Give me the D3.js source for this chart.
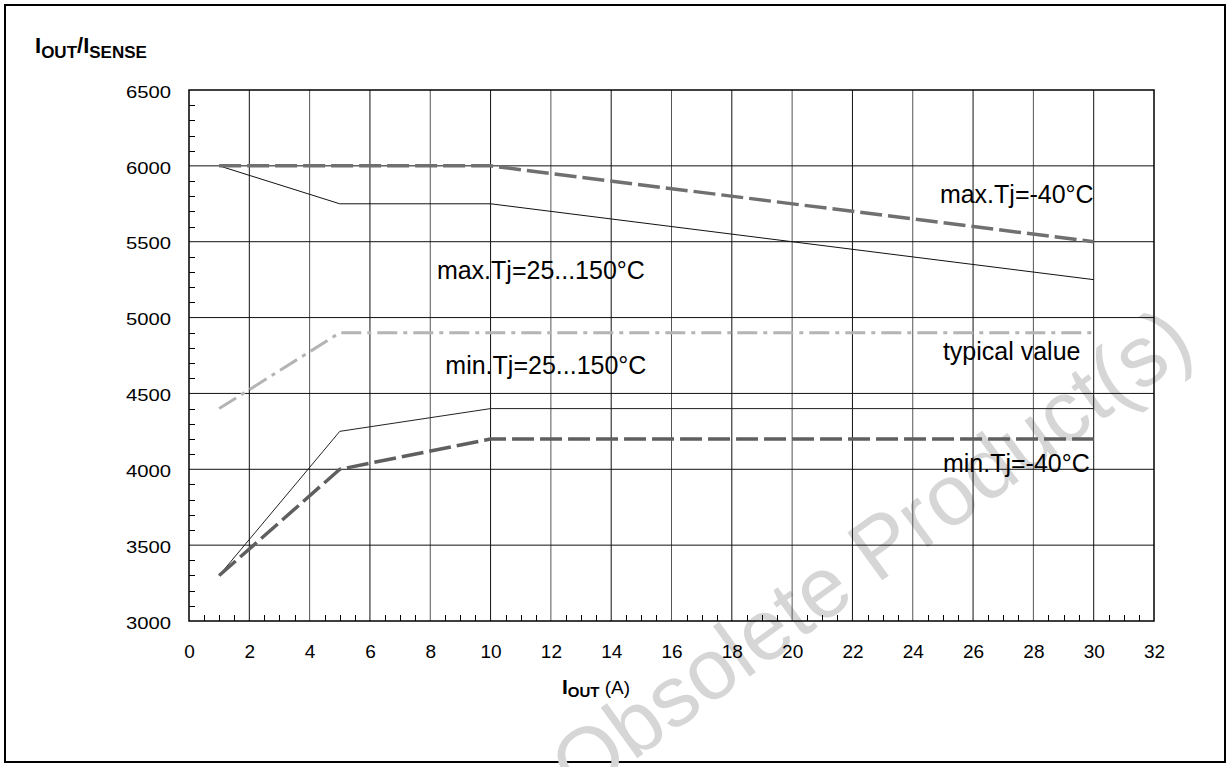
<!DOCTYPE html>
<html>
<head>
<meta charset="utf-8">
<script src="https://cdn.jsdelivr.net/npm/d3@7"></script>
<style>
  body { margin: 0; background: #fff; }
  svg { display: block; font-family: "Liberation Sans", Arial, sans-serif; }
</style>
</head>
<body>
<script>
// Data
var xTicks = [0, 2, 4, 6, 8, 10, 12, 14, 16, 18, 20, 22, 24, 26, 28, 30, 32]
var yTicks = [3000, 3500, 4000, 4500, 5000, 5500, 6000, 6500]

var maxCold = [[1, 6000], [10, 6000], [30, 5500]]
var maxHot = [[1, 6000], [5, 5750], [10, 5750], [30, 5250]]
var typical = [[1, 4400], [5, 4900], [30, 4900]]
var minHot = [[1, 3300], [5, 4250], [10, 4400], [30, 4400]]
var minCold = [[1, 3300], [5, 4000], [10, 4200], [30, 4200]]

var labels = [
    { text: 'max.Tj=-40°C', x: 24.9, y: 5755 },
    { text: 'max.Tj=25...150°C', x: 8.22, y: 5255 },
    { text: 'min.Tj=25...150°C', x: 8.5, y: 4628 },
    { text: 'typical value', x: 25.0, y: 4720 },
    { text: 'min.Tj=-40°C', x: 25.0, y: 3982 }
]

var W = 1230, H = 767
var plot = { left: 189, top: 90, right: 1154, bottom: 621 }

var svg = d3.select('body').append('svg')
    .attr('width', W)
    .attr('height', H)

var x = d3.scaleLinear().domain([0, 32]).range([plot.left, plot.right])
var y = d3.scaleLinear().domain([3000, 6500]).range([plot.bottom, plot.top])

// outer frame
svg.append('rect')
    .attr('x', 5).attr('y', 5)
    .attr('width', W - 10).attr('height', H - 10)
    .attr('fill', 'none')
    .attr('stroke', '#000')
    .attr('stroke-width', 2)

// watermark
svg.append('text')
    .attr('transform', 'translate(888,576) rotate(-36)')
    .attr('text-anchor', 'middle')
    .attr('font-size', 86)
    .attr('fill', '#d6d6d6')
    .text('Obsolete Product(s)')

// grid
var g = svg.append('g')

g.selectAll('.vgrid').data(xTicks.slice(1, -1)).join('line')
    .attr('x1', d => x(d)).attr('x2', d => x(d))
    .attr('y1', plot.top).attr('y2', plot.bottom)
    .attr('stroke', (d, i) => i % 2 ? '#555' : '#111')
    .attr('stroke-width', 1)

g.selectAll('.hgrid').data(yTicks.slice(1, -1)).join('line')
    .attr('x1', plot.left).attr('x2', plot.right)
    .attr('y1', d => y(d)).attr('y2', d => y(d))
    .attr('stroke', '#111')
    .attr('stroke-width', 1)

// minor ticks
var yMinor = d3.range(3000, 6500, 100).filter(d => d % 500 !== 0)
g.selectAll('.ymin').data(yMinor).join('line')
    .attr('x1', plot.left).attr('x2', plot.left + 6)
    .attr('y1', d => Math.round(y(d)) + 0.5).attr('y2', d => Math.round(y(d)) + 0.5)
    .attr('stroke', '#000')

var xMinor = d3.range(0, 32, 0.5).filter(d => d % 2 !== 0)
g.selectAll('.xmin').data(xMinor).join('line')
    .attr('x1', d => Math.round(x(d)) + 0.5).attr('x2', d => Math.round(x(d)) + 0.5)
    .attr('y1', plot.bottom).attr('y2', plot.bottom - 6)
    .attr('stroke', '#000')

// plot border
g.append('rect')
    .attr('x', plot.left).attr('y', plot.top)
    .attr('width', plot.right - plot.left).attr('height', plot.bottom - plot.top)
    .attr('fill', 'none')
    .attr('stroke', '#000')
    .attr('stroke-width', 1.5)

// axes labels
var xAxis = d3.axisBottom(x).tickValues(xTicks).tickSize(0).tickPadding(24)
svg.append('g')
    .attr('transform', 'translate(0,' + plot.bottom + ')')
    .call(xAxis)
    .call(a => a.select('.domain').remove())
    .selectAll('text')
    .attr('font-size', 19)
    .attr('font-family', '"Liberation Sans", Arial, sans-serif')
    .attr('fill', '#000')

var yAxis = d3.axisLeft(y).tickValues(yTicks).tickFormat(d3.format('d')).tickSize(0).tickPadding(18)
svg.append('g')
    .attr('transform', 'translate(' + plot.left + ',0)')
    .call(yAxis)
    .call(a => a.select('.domain').remove())
    .selectAll('text')
    .attr('font-size', 16)
    .attr('font-family', '"Liberation Sans", Arial, sans-serif')
    .attr('fill', '#000')
    .attr('textLength', 45)
    .attr('lengthAdjust', 'spacingAndGlyphs')
    .attr('dy', '0.45em')

// series
var line = d3.line().x(d => x(d[0])).y(d => y(d[1]))

function drawSeries(data, colour, width, dash) {
    svg.append('path')
        .attr('d', line(data))
        .attr('fill', 'none')
        .attr('stroke', colour)
        .attr('stroke-width', width)
        .attr('stroke-dasharray', dash)
}

drawSeries(maxHot, '#111', 1, null)
drawSeries(minHot, '#222', 1, null)
drawSeries(typical, '#b4b4b4', 3, '20,6,4,6')
drawSeries(maxCold, '#707070', 3.5, '22,6')
drawSeries(minCold, '#5f5f5f', 3.5, '22,6')

// annotations
svg.selectAll('.lbl').data(labels).join('text')
    .attr('x', d => x(d.x))
    .attr('y', d => y(d.y))
    .attr('font-size', 25)
    .attr('fill', '#000')
    .text(d => d.text)

// axis titles
var yt = svg.append('text')
    .attr('x', 35).attr('y', 53)
    .attr('font-weight', 'bold')
    .attr('font-size', 22)
yt.append('tspan').text('I')
yt.append('tspan').attr('font-size', 17).attr('dy', 5).text('OUT')
yt.append('tspan').attr('dy', -5).text('/I')
yt.append('tspan').attr('font-size', 17).attr('dy', 5).text('SENSE')

var xt = svg.append('text')
    .attr('x', 562).attr('y', 694)
    .attr('font-size', 21)
xt.append('tspan').attr('font-weight', 'bold').text('I')
xt.append('tspan').attr('font-weight', 'bold').attr('font-size', 15).attr('dy', 3).text('OUT')
xt.append('tspan').attr('dy', -3).attr('font-size', 19).text(' (A)')
</script>
</body>
</html>
